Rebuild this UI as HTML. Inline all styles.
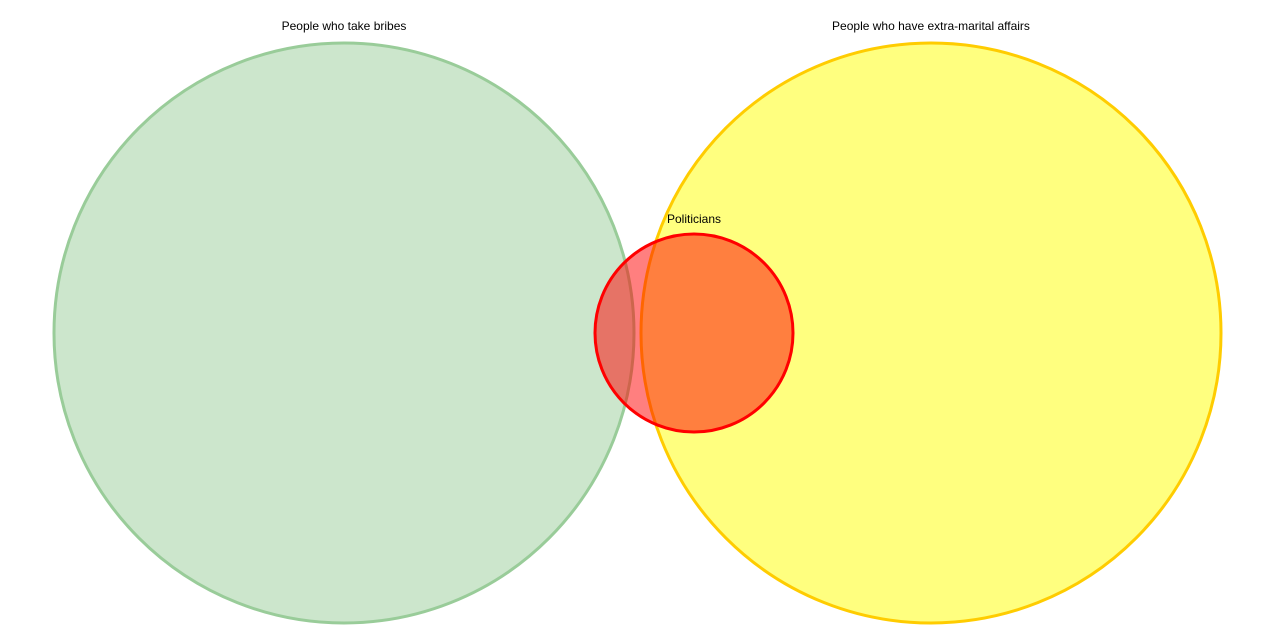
<!DOCTYPE html>
<html><head><meta charset="utf-8">
<style>
html,body{margin:0;padding:0;background:#fff;}
svg{display:block;}
text{font-family:"Liberation Sans",Arial,sans-serif;font-size:12px;fill:#000;}
</style></head>
<body>
<svg id="venn" width="1285" height="636" viewBox="0 0 1285 636"></svg>
<script>
const setNames = ["People who take bribes", "People who have extra-marital affairs", "Politicians"];
const setCx = [344, 931, 694];
const setCy = [333, 333, 333];
const setR = [290, 290, 99];
const fills = ["rgba(0,128,0,0.2)", "rgba(255,255,0,0.5)", "rgba(255,0,0,0.5)"];
const strokes = ["#99cc99", "#ffcc00", "#ff0000"];
const keys = ["bribes", "affairs", "politicians"];
const labelOffsets = [13, 13, 11];
const NS = "http://www.w3.org/2000/svg";
const svg = document.getElementById("venn");
for (let i = 0; i < setNames.length; i++) {
  const c = document.createElementNS(NS, "circle");
  c.setAttribute("cx", setCx[i]);
  c.setAttribute("cy", setCy[i]);
  c.setAttribute("r", setR[i]);
  c.setAttribute("fill", fills[i]);
  c.setAttribute("stroke", strokes[i]);
  c.setAttribute("stroke-width", "3");
  
  
  svg.appendChild(c);
}
for (let i = 0; i < setNames.length; i++) {
  const t = document.createElementNS(NS, "text");
  t.setAttribute("x", setCx[i]);
  t.setAttribute("y", setCy[i] - setR[i] - labelOffsets[i]);
  t.setAttribute("text-anchor", "middle");
  t.textContent = setNames[i];
  
  
  svg.appendChild(t);
}
</script>
</body></html>
